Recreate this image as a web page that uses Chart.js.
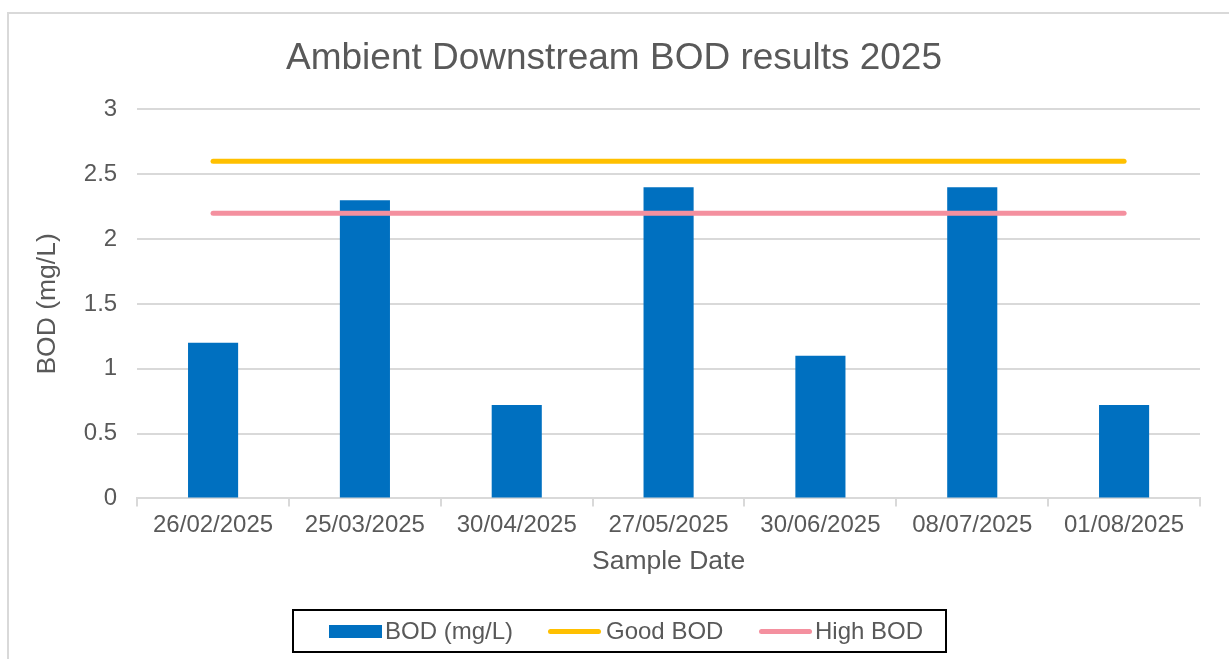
<!DOCTYPE html>
<html>
<head>
<meta charset="utf-8">
<script src="https://cdn.jsdelivr.net/npm/chart.js@4.4.1/dist/chart.umd.min.js"></script>
<style>
  html, body { margin: 0; padding: 0; background: #fff; }
  #wrap { position: relative; width: 1229px; height: 659px; overflow: hidden; }
  #frame { position: absolute; left: 7px; top: 12px; width: 1240px; height: 700px;
           border-left: 2px solid #d9d9d9; border-top: 2px solid #d9d9d9; }
  #bod-chart { position: absolute; left: 0; top: 0; }
  #legend { position: absolute; left: 292px; top: 609px; width: 651px; height: 40px;
            border: 2px solid #000; font-family: "Liberation Sans", Arial, sans-serif;
            font-size: 24px; color: #595959; }
  .item { position: absolute; top: 7px; line-height: 26px; }
  .swatch { position: absolute; }
</style>
</head>
<body>
<div id="wrap">
  <div id="frame"></div>
  <canvas id="bod-chart" width="1229" height="659"></canvas>
  <div id="legend"></div>
</div>
<script>
// Sample dates (x categories)
let sampleDates = ['26/02/2025', '25/03/2025', '30/04/2025', '27/05/2025', '30/06/2025', '08/07/2025', '01/08/2025']
// Measured BOD in mg/L
let bodValues = [1.2, 2.3, 0.72, 2.4, 1.1, 2.4, 0.72]
// Threshold lines
let goodBod = [2.6, 2.6, 2.6, 2.6, 2.6, 2.6, 2.6]
let highBod = [2.2, 2.2, 2.2, 2.2, 2.2, 2.2, 2.2]
let yTicks = [0, 0.5, 1, 1.5, 2, 2.5, 3]

let fontFamily = '"Liberation Sans", Arial, sans-serif'
let textColor = '#595959'
let gridColor = '#d9d9d9'
let colors = { bod: '#0070C0', good: '#FFC000', high: '#F4909F' }

Chart.defaults.font.family = fontFamily
Chart.defaults.color = textColor

let cxt = document.querySelector('#bod-chart').getContext('2d')

let chart = new Chart(cxt, {
    type: 'bar',
    data: {
        labels: sampleDates,
        datasets: [
            { type: 'line', label: 'Good BOD', data: goodBod, borderColor: colors.good,
              borderWidth: 5, borderCapStyle: 'round', pointRadius: 0, order: 1 },
            { type: 'line', label: 'High BOD', data: highBod, borderColor: colors.high,
              borderWidth: 5, borderCapStyle: 'round', pointRadius: 0, order: 2 },
            { label: 'BOD (mg/L)', data: bodValues, backgroundColor: colors.bod,
              barPercentage: 0.33, categoryPercentage: 1, order: 3 }
        ]
    },
    options: {
        responsive: false,
        animation: false,
        layout: { padding: { left: 28, right: 29, top: 37, bottom: 77 } },
        plugins: {
            legend: { display: false },
            tooltip: { enabled: false },
            title: {
                display: true,
                text: 'Ambient Downstream BOD results 2025',
                font: { size: 37, weight: 'normal' },
                color: textColor,
                padding: { top: 0, bottom: 28 }
            }
        },
        scales: {
            x: {
                grid: { display: true, drawOnChartArea: false, drawTicks: true, tickLength: 8, color: gridColor, lineWidth: 2 },
                border: { display: true, color: gridColor, width: 2 },
                ticks: { font: { size: 24 }, color: textColor, maxRotation: 0, padding: 5 },
                title: { display: true, text: 'Sample Date', font: { size: 26.5 }, color: textColor, padding: { top: 1 } }
            },
            y: {
                min: 0,
                max: 3,
                afterBuildTicks: function (axis) {
                    axis.ticks = yTicks.map(function (v) { return { value: v } })
                },
                grid: { color: gridColor, lineWidth: 2, drawTicks: false },
                border: { display: false },
                ticks: { font: { size: 24 }, color: textColor, padding: 20,
                         callback: function (v) { return String(v) } },
                title: { display: true, text: 'BOD (mg/L)', font: { size: 26.5 }, color: textColor, padding: { top: 4, bottom: 0 } }
            }
        }
    }
})

// Legend drawn as text below the chart, same order as the reference
let legendItems = [
    { text: 'BOD (mg/L)', color: colors.bod, kind: 'box', x: 35, textX: 91 },
    { text: 'Good BOD', color: colors.good, kind: 'line', x: 254, textX: 312 },
    { text: 'High BOD', color: colors.high, kind: 'line', x: 465, textX: 521 }
]
let legend = document.querySelector('#legend')
legendItems.forEach(function (item) {
    let sw = document.createElement('div')
    sw.className = 'swatch'
    sw.style.background = item.color
    sw.style.left = item.x + 'px'
    sw.style.width = '53px'
    if (item.kind === 'box') {
        sw.style.top = '14px'; sw.style.height = '13px'
    } else {
        sw.style.top = '18px'; sw.style.height = '5px'; sw.style.borderRadius = '3px'
    }
    legend.appendChild(sw)
    let t = document.createElement('span')
    t.className = 'item'
    t.style.left = item.textX + 'px'
    t.textContent = item.text
    legend.appendChild(t)
})
</script>
</body>
</html>
